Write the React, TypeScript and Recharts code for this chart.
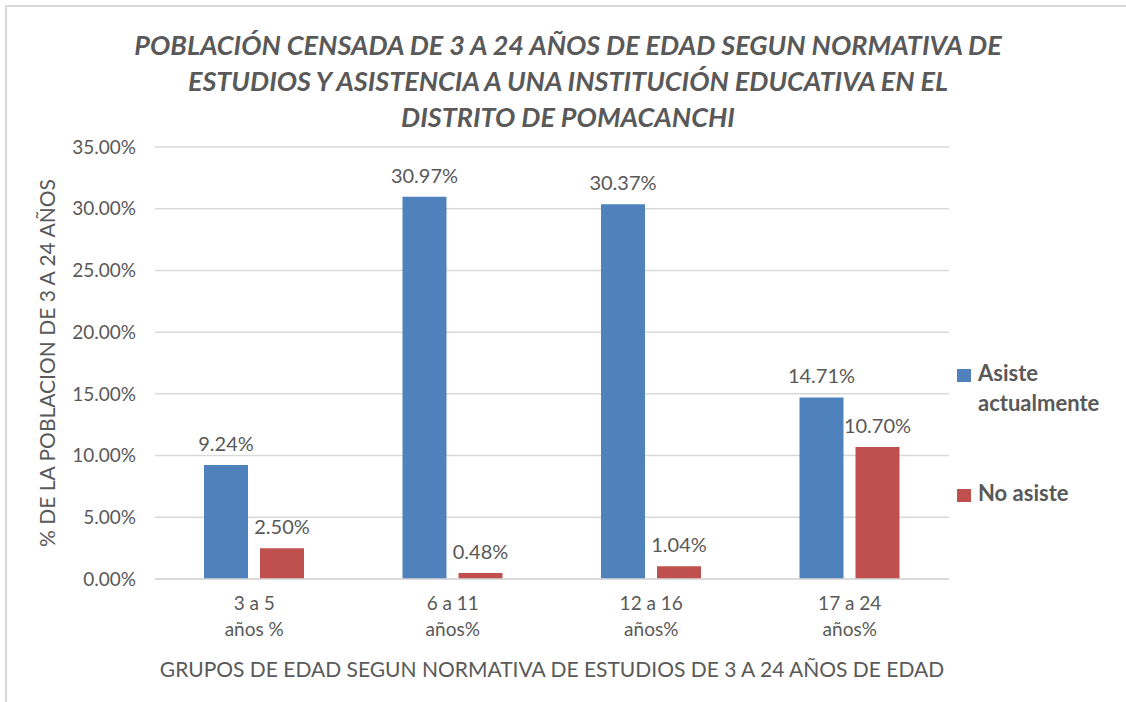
import React from "react";
import { BarChart, Bar, XAxis, YAxis, CartesianGrid, LabelList, Legend, Label } from "recharts";

const groups = ["3 a 5|años %", "6 a 11|años%", "12 a 16|años%", "17 a 24|años%"];
const asiste = [9.24, 30.97, 30.37, 14.71];
const noAsiste = [2.5, 0.48, 1.04, 10.7];
const yTicks = [0, 5, 10, 15, 20, 25, 30, 35];

const data = groups.map((g, i) => ({ group: g, asiste: asiste[i], noAsiste: noAsiste[i] }));

const FONT = "Lato, 'Open Sans', sans-serif";
const GREY = "#595959";
const BLUE = "#4F81BD";
const RED = "#C0504D";

const pct = (v: number) => `${Number(v).toFixed(2)}%`;

function GroupTick({ x, y, payload }: any) {
  const [a, b] = String(payload.value).split("|");
  return (
    <text x={x} y={y} textAnchor="middle" fill={GREY} fontSize={19} fontFamily={FONT}>
      <tspan x={x} dy={23}>{a}</tspan>
      <tspan x={x} dy={26}>{b}</tspan>
    </text>
  );
}

function LegendBox() {
  const item = (color: string, lines: string[]) => (
    <div style={{ display: "flex", alignItems: "flex-start" }}>
      <div style={{ width: 14, height: 13, background: color, marginTop: 6, marginRight: 7 }} />
      <div style={{ lineHeight: "30px", marginTop: -5 }}>
        {lines.map((l) => (
          <div key={l}>{l}</div>
        ))}
      </div>
    </div>
  );
  return (
    <div style={{ fontFamily: FONT, fontWeight: 700, fontSize: 22, color: GREY }}>
      {item(BLUE, ["Asiste", "actualmente"])}
      <div style={{ height: 65 }} />
      {item(RED, ["No asiste"])}
    </div>
  );
}

export default function App() {
  return (
    <div style={{ position: "fixed", left: 0, top: 0, width: 1126, height: 702, background: "#fff", overflow: "hidden" }}>
      <div
        style={{
          position: "absolute",
          left: 5,
          top: 5,
          width: 1140,
          height: 720,
          border: "2px solid #d9d9d9",
        }}
      />
      <div
        style={{
          position: "absolute",
          left: 0,
          top: 27,
          width: 1136,
          textAlign: "center",
          fontFamily: FONT,
          fontWeight: 700,
          fontStyle: "italic",
          fontSize: 27,
          lineHeight: "36px",
          color: GREY,
        }}
      >
        POBLACIÓN CENSADA DE 3 A 24 AÑOS DE EDAD SEGUN NORMATIVA DE
        <br />
        ESTUDIOS Y ASISTENCIA A UNA INSTITUCIÓN EDUCATIVA EN EL
        <br />
        DISTRITO DE POMACANCHI
      </div>
      <div style={{ position: "absolute", left: 0, top: 0 }}>
        <BarChart
          width={1126}
          height={702}
          data={data}
          margin={{ top: 147, right: 7, bottom: 0, left: 0 }}
          barCategoryGap={49}
          barGap={12}
        >
          <CartesianGrid vertical={false} stroke="#d9d9d9" strokeWidth={1.5} />
          <XAxis
            dataKey="group"
            height={123}
            tick={<GroupTick />}
            tickLine={false}
            axisLine={{ stroke: "#d9d9d9", strokeWidth: 1.5 }}
            interval={0}
          >
            <Label
              content={({ viewBox }: any) => (
                <text
                  x={viewBox.x + viewBox.width / 2}
                  y={viewBox.y + 98}
                  textAnchor="middle"
                  fill={GREY}
                  fontSize={21}
                  fontFamily={FONT}
                >
                  GRUPOS DE EDAD SEGUN NORMATIVA DE ESTUDIOS DE 3 A 24 AÑOS DE EDAD
                </text>
              )}
            />
          </XAxis>
          <YAxis
            width={155}
            domain={[0, 35]}
            ticks={yTicks}
            tickFormatter={pct}
            tick={{ fill: GREY, fontSize: 19, fontFamily: FONT }}
            tickLine={false}
            tickSize={0}
            tickMargin={19}
            axisLine={false}
          >
            <Label
              content={({ viewBox }: any) => {
                const cx = 46;
                const cy = viewBox.y + viewBox.height / 2;
                return (
                  <text
                    x={cx}
                    y={cy}
                    transform={`rotate(-90, ${cx}, ${cy})`}
                    textAnchor="middle"
                    dominantBaseline="central"
                    fill={GREY}
                    fontSize={21}
                    fontFamily={FONT}
                  >
                    % DE LA POBLACION DE 3 A 24 AÑOS
                  </text>
                );
              }}
            />
          </YAxis>
          <Legend
            layout="vertical"
            align="right"
            verticalAlign="top"
            content={<LegendBox />}
            wrapperStyle={{ left: 957, top: 363, width: 170 }}
          />
          <Bar dataKey="asiste" name="Asiste actualmente" fill={BLUE} barSize={44} isAnimationActive={false}>
            <LabelList dataKey="asiste" position="top" offset={14} formatter={pct} fill={GREY} fontSize={20} fontFamily={FONT} />
          </Bar>
          <Bar dataKey="noAsiste" name="No asiste" fill={RED} barSize={44} isAnimationActive={false}>
            <LabelList dataKey="noAsiste" position="top" offset={14} formatter={pct} fill={GREY} fontSize={20} fontFamily={FONT} />
          </Bar>
        </BarChart>
      </div>
    </div>
  );
}
